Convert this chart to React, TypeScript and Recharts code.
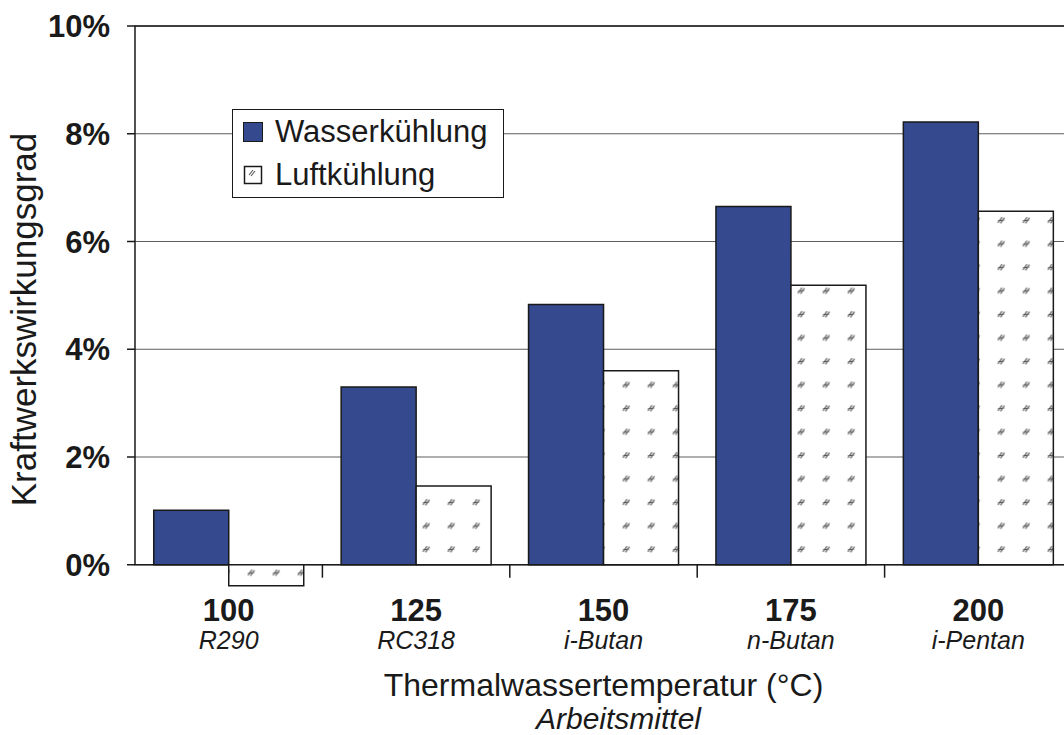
import React from 'react';
import { BarChart, Bar, XAxis, YAxis, CartesianGrid, Legend, ReferenceArea } from 'recharts';

const temperatures = ['100', '125', '150', '175', '200'];
const fluids = ['R290', 'RC318', 'i-Butan', 'n-Butan', 'i-Pentan'];
const wasserkuehlung = [1.01, 3.3, 4.83, 6.65, 8.22];
const luftkuehlung = [-0.39, 1.46, 3.6, 5.19, 6.56];
const seriesNames = ['Wasserkühlung', 'Luftkühlung'];
const yTicks = [0, 2, 4, 6, 8, 10];

const data = temperatures.map((t, i) => ({
  temp: t,
  wasser: wasserkuehlung[i],
  luft: luftkuehlung[i],
}));

const FONT = "'Liberation Sans', Arial, sans-serif";
const INK = '#1a1a1a';
const BLUE = '#34498e';
// 0 is treated as "missing" by ReferenceArea, so nudge it
const ZERO = 1e-9;

function CategoryTick({ x, y, index, payload }: any) {
  return (
    <g fontFamily={FONT} fill={INK}>
      <text x={x} y={y + 32} textAnchor="middle" fontSize={31} fontWeight="bold">
        {payload.value}
      </text>
      <text x={x} y={y + 60} textAnchor="middle" fontSize={25} fontStyle="italic">
        {fluids[index]}
      </text>
    </g>
  );
}

function XTitle(props: any) {
  const vb = props.viewBox || { x: 135, y: 589, width: 937, height: 146 };
  const cx = vb.x + vb.width / 2;
  return (
    <g fontFamily={FONT} fill={INK} textAnchor="middle">
      <text x={cx} y={vb.y + 107} fontSize={32}>Thermalwassertemperatur (°C)</text>
      <text x={cx + 15} y={vb.y + 140} fontSize={30} fontStyle="italic">Arbeitsmittel</text>
    </g>
  );
}

function YTitle(props: any) {
  const vb = props.viewBox || { x: 0, y: 26, width: 135, height: 563 };
  const cy = vb.y + vb.height / 2 + 12;
  const x = vb.x + 36;
  return (
    <text
      x={x}
      y={cy}
      transform={`rotate(-90, ${x}, ${cy})`}
      textAnchor="middle"
      fontFamily={FONT}
      fontSize={35}
      fill={INK}
    >
      Kraftwerkswirkungsgrad
    </text>
  );
}

// tick mark on the left edge of a category band
function EdgeTick(props: any) {
  const { x, y, height } = props;
  return <line x1={x} y1={y} x2={x} y2={y + height} stroke={INK} strokeWidth={1.5} />;
}

function LegendBox() {
  const row = { display: 'flex', alignItems: 'center', height: 43 } as const;
  return (
    <div
      style={{
        width: 272,
        border: `1.5px solid ${INK}`,
        background: '#fff',
        fontFamily: FONT,
        fontSize: 31,
        color: INK,
        paddingLeft: 10,
        paddingBottom: 1,
        boxSizing: 'border-box',
      }}
    >
      <div style={row}>
        <span style={{ width: 20, height: 20, boxSizing: 'border-box', background: BLUE, border: `1.5px solid ${INK}`, marginRight: 12 }} />
        {seriesNames[0]}
      </div>
      <div style={row}>
        <svg width={20} height={20} style={{ marginRight: 12 }}>
          <rect x={1.5} y={1.5} width={17} height={17} fill="#fff" stroke={INK} strokeWidth={1.5} />
          <path d="M6 10 L10 5 M8 11 L12 6" stroke="#555" strokeWidth={1.1} />
        </svg>
        {seriesNames[1]}
      </div>
    </div>
  );
}

export default function App() {
  return (
    <div style={{ position: 'absolute', left: 0, top: 0, width: 1064, height: 735, overflow: 'hidden', background: '#fff' }}>
      <BarChart
        width={1072}
        height={735}
        data={data}
        margin={{ top: 26, right: 0, bottom: 0, left: 0 }}
        barCategoryGap="10%"
        barGap={0}
      >
        <defs>
          <pattern id="luftHatch" patternUnits="userSpaceOnUse" x={13.5} y={20.25} width={25} height={23.5}>
            <rect width={25} height={23.5} fill="#fff" />
            <path d="M9.5 14.5 L13.5 9 M12 15 L16 9.5 M9.5 12.5 L15.5 12" stroke="#555" strokeWidth={1.1} />
          </pattern>
        </defs>
        <CartesianGrid vertical={false} syncWithTicks stroke="#5e5e5e" strokeWidth={1} />
        <XAxis
          dataKey="temp"
          axisLine={false}
          tickLine={false}
          tickSize={0}
          tickMargin={0}
          height={146}
          interval={0}
          tick={<CategoryTick />}
          label={<XTitle />}
        />
        <YAxis
          width={135}
          domain={[-0.45, 10]}
          ticks={yTicks}
          allowDataOverflow
          axisLine={false}
          tickSize={8}
          tickMargin={17}
          tickLine={{ stroke: INK, strokeWidth: 1.5 }}
          tickFormatter={(v: number) => `${v}%`}
          tick={{ fontFamily: FONT, fontSize: 31, fontWeight: 'bold', fill: INK }}
          label={<YTitle />}
        />
        <ReferenceArea
          x1={temperatures[0]}
          x2={temperatures[temperatures.length - 1]}
          y1={ZERO}
          y2={10}
          fill="none"
          stroke={INK}
          strokeWidth={1.5}
          ifOverflow="visible"
        />
        {temperatures.slice(1).map((t) => (
          <ReferenceArea
            key={t}
            x1={t}
            x2={t}
            y1={-0.24}
            y2={ZERO}
            ifOverflow="visible"
            shape={<EdgeTick />}
          />
        ))}
        <Legend
          layout="vertical"
          align="center"
          verticalAlign="middle"
          wrapperStyle={{ left: 232, top: 109, width: 'auto' }}
          content={() => <LegendBox />}
        />
        <Bar dataKey="wasser" name={seriesNames[0]} fill={BLUE} stroke={INK} strokeWidth={1.5} isAnimationActive={false} />
        <Bar dataKey="luft" name={seriesNames[1]} fill="url(#luftHatch)" stroke={INK} strokeWidth={1.5} isAnimationActive={false} />
      </BarChart>
    </div>
  );
}
